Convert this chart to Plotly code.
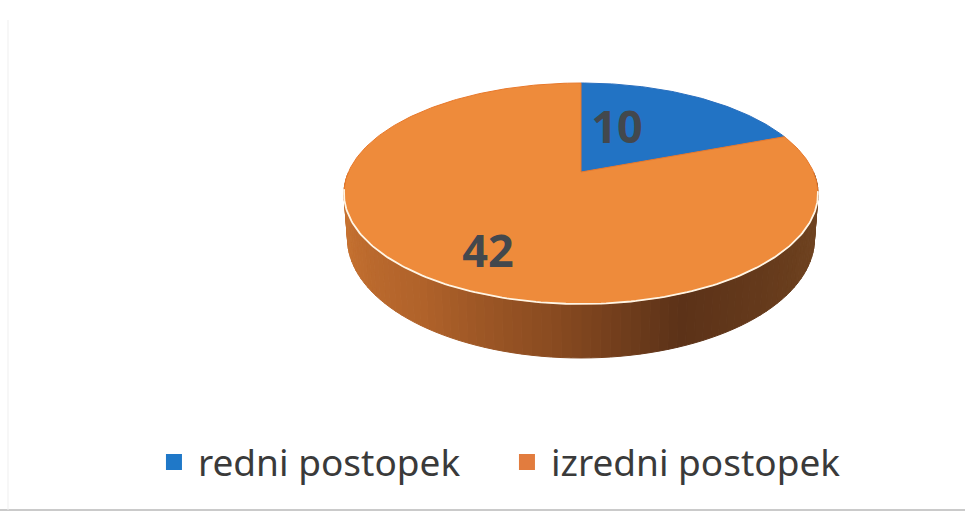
import math
import plotly.graph_objects as go

categories = ["redni postopek", "izredni postopek"]
values = [10, 42]
slice_colors = ["#2273C4", "#EE8B3B"]
edge_colors = ["#2A6FBE", "#E8782A"]
legend_colors = ["#1F78C8", "#E27C3E"]
text_color = "#43484D"

# Geometry of the tilted disc, in page pixels
CX, CY = 581.0, 172.0
A, B, K = 232.5, 106.3, 0.1945
DEPTH = 43.5
BOTTOM_SHRINK = 0.985

wall_stops = [
    (90, (116, 72, 36)), (120, (108, 64, 30)), (160, (92, 50, 24)),
    (185, (136, 74, 32)), (215, (176, 98, 42)), (250, (196, 112, 48)),
    (270, (200, 116, 50)),
]


def project(theta_deg, lower=False):
    t = math.radians(theta_deg)
    X, Z = math.sin(t), math.cos(t)
    w = 1 + K * Z
    if lower:
        return CX + BOTTOM_SHRINK * A * X / w, CY - B * Z / w + DEPTH / w
    return CX + A * X / w, CY - B * Z / w


def wall_color(theta):
    for (a, ca), (b, cb) in zip(wall_stops, wall_stops[1:]):
        if a <= theta <= b:
            f = (theta - a) / (b - a)
            return "rgb(%d,%d,%d)" % tuple(round(p + (q - p) * f) for p, q in zip(ca, cb))
    return "rgb(150,90,40)"


fig = go.Figure()

# Wall of the disc
step = 2
for th in range(90, 270, step):
    pts_top = [project(th + i * 0.5) for i in range(int(step * 2) + 1)]
    pts_low = [project(th + i * 0.5, True) for i in range(int(step * 2) + 1)][::-1]
    pts = pts_top + pts_low + [pts_top[0]]
    c = wall_color(th + step / 2)
    fig.add_trace(go.Scatter(x=[p[0] for p in pts], y=[p[1] for p in pts], mode="lines",
                             fill="toself", fillcolor=c, line=dict(color=c, width=1),
                             hoverinfo="skip", showlegend=False))

# Top face: one wedge per value
total = sum(values)
start = 0.0
for name, v, col, edge in zip(categories, values, slice_colors, edge_colors):
    end = start + 360.0 * v / total
    n = max(2, int(end - start))
    arc = [project(start + (end - start) * i / n) for i in range(n + 1)]
    pts = [(CX, CY)] + arc + [(CX, CY)]
    fig.add_trace(go.Scatter(x=[p[0] for p in pts], y=[p[1] for p in pts], mode="lines",
                             fill="toself", fillcolor=col, line=dict(color=edge, width=1),
                             name=name, hoverinfo="skip", showlegend=False))
    start = end

# Pale rim along the front edge
rim = [project(100 + i) for i in range(162)]
fig.add_trace(go.Scatter(x=[p[0] for p in rim], y=[p[1] for p in rim], mode="lines",
                         line=dict(color="#FFF6E6", width=1.8), hoverinfo="skip", showlegend=False))

# Value labels
label_x = [617, 488]
label_y = [132, 256]
fig.add_trace(go.Scatter(x=label_x, y=label_y, mode="text", text=[str(v) for v in values],
                         textposition="middle center",
                         textfont=dict(family="Noto Sans", size=45, color=text_color, weight="bold"),
                         hoverinfo="skip", showlegend=False))

# Legend entries
for name, col in zip(categories, legend_colors):
    fig.add_trace(go.Scatter(x=[None], y=[None], mode="markers", name=name,
                             marker=dict(symbol="square", size=19, color=col)))

fig.update_layout(
    width=965, height=511, margin=dict(l=0, r=0, t=0, b=0),
    paper_bgcolor="#FFFFFF", plot_bgcolor="#FFFFFF",
    xaxis=dict(range=[0, 965], visible=False, fixedrange=True),
    yaxis=dict(range=[511, 0], visible=False, fixedrange=True),
    legend=dict(orientation="h", x=0.1554, y=0.095, xanchor="left", yanchor="middle",
                font=dict(family="Noto Sans", size=37, color="#3A3A3A"),
                itemwidth=38, entrywidth=300, entrywidthmode="pixels",
                bgcolor="rgba(0,0,0,0)"),
    shapes=[
        dict(type="line", xref="x", yref="y", x0=0, x1=965, y0=510, y1=510,
             line=dict(color="#B8B8B8", width=1.5)),
        dict(type="line", xref="x", yref="y", x0=8, x1=8, y0=20, y1=510,
             line=dict(color="#EFEFEF", width=1)),
    ],
)

fig.write_html("out.html", config={"displayModeBar": False},
               post_script="document.body.style.margin='0';")
